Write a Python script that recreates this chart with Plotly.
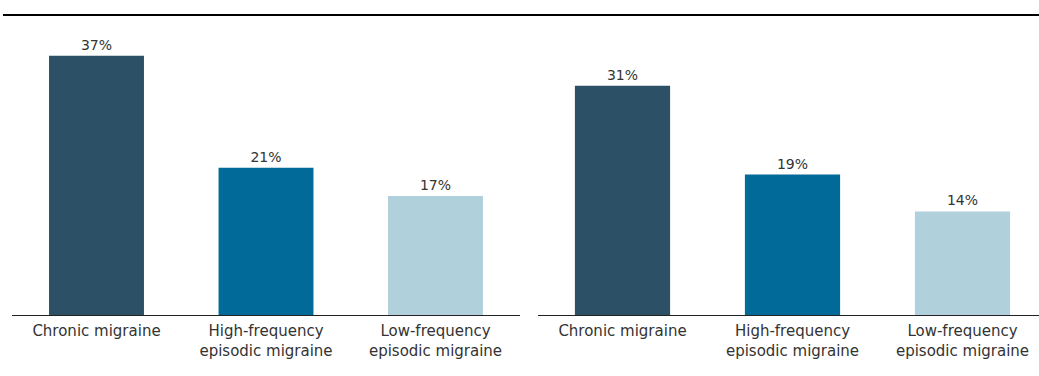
import plotly.graph_objects as go

# Share of patients, by migraine type, in two groups
categories = ["Chronic migraine", "High-frequency<br>episodic migraine", "Low-frequency<br>episodic migraine"]
left_values = [37, 21, 17]
right_values = [31, 19, 14]
bar_colors = ["#2c5065", "#016a98", "#b0d0dc"]

W, H = 1039, 376
FONT = "DejaVu Sans"
TEXT_COLOR = "#333333"

fig = go.Figure()
for vals, xa, ya in [(left_values, "x", "y"), (right_values, "x2", "y2")]:
    fig.add_trace(go.Bar(
        x=categories, y=vals, xaxis=xa, yaxis=ya,
        marker=dict(color=bar_colors, line=dict(width=0)),
        text=[f"{v}%" for v in vals], textposition="outside",
        textfont=dict(family=FONT, size=14, color=TEXT_COLOR),
        cliponaxis=False, showlegend=False, hoverinfo="skip",
    ))

y_dom = [(H - 315) / H, (H - 20) / H]
axis_common = dict(
    type="category", showgrid=False, zeroline=False, ticks="",
    showline=True, linecolor="#222222", linewidth=1,
    tickfont=dict(family=FONT, size=15, color=TEXT_COLOR),
    ticklabelstandoff=2,
    fixedrange=True,
)
fig.update_layout(
    width=W, height=H,
    margin=dict(l=0, r=0, t=0, b=0),
    paper_bgcolor="white", plot_bgcolor="white",
    bargap=0.44,
    xaxis=dict(domain=[11.75 / W, 520.25 / W], range=[-0.5, 2.5], anchor="y", **axis_common),
    xaxis2=dict(domain=[537.5 / W, 1.0], range=[-0.5, 2.45], anchor="y2", **axis_common),
    yaxis=dict(domain=y_dom, range=[0, 42.1], visible=False, fixedrange=True),
    yaxis2=dict(domain=y_dom, range=[0, 39.9], visible=False, anchor="x2", fixedrange=True),
    shapes=[dict(type="line", xref="paper", yref="paper",
                 x0=3 / W, x1=1.0, y0=1 - 15 / H, y1=1 - 15 / H,
                 line=dict(color="black", width=2))],
)

fig.write_html("out.html")
